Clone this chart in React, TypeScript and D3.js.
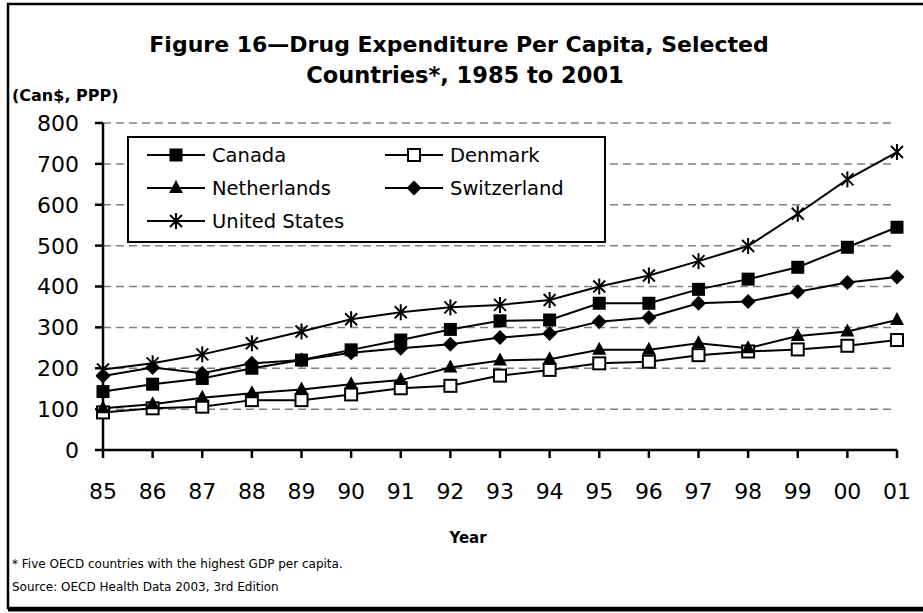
import React from "react";
import * as d3 from "d3";

const years = ["85","86","87","88","89","90","91","92","93","94","95","96","97","98","99","00","01"];
const yTicks = [0,100,200,300,400,500,600,700,800];
const canada = [143,161,175,200,220,245,269,295,316,318,359,359,393,418,447,496,545];
const denmark = [92,102,106,122,122,136,151,157,182,196,212,216,232,241,246,255,269];
const netherlands = [102,112,128,139,148,161,171,202,219,222,245,245,261,249,279,290,318];
const switzerland = [181,202,188,212,220,238,249,259,275,285,314,324,359,363,387,410,423];
const unitedStates = [197,212,234,261,290,320,337,349,355,367,400,427,462,499,578,662,729];

const seriesNames = ["Canada","Denmark","Netherlands","Switzerland","United States"];
const seriesValues = [canada, denmark, netherlands, switzerland, unitedStates];
const seriesMarkers = ["square","hollowSquare","triangle","diamond","asterisk"];

const W = 923, H = 613;
const FONT = "'DejaVu Sans', Verdana, sans-serif";

function Marker({ type, x, y }: { type: string; x: number; y: number }) {
  switch (type) {
    case "square":
      return <rect x={x - 6.5} y={y - 6.5} width={13} height={13} fill="#000" />;
    case "hollowSquare":
      return <rect x={x - 6} y={y - 6} width={12} height={12} fill="#fff" stroke="#000" strokeWidth={2} />;
    case "triangle":
      return <path d={`M${x},${y - 8}L${x + 7},${y + 5}L${x - 7},${y + 5}Z`} fill="#000" />;
    case "diamond":
      return <path d={`M${x},${y - 7.5}L${x + 7.5},${y}L${x},${y + 7.5}L${x - 7.5},${y}Z`} fill="#000" />;
    case "asterisk":
      return (
        <g stroke="#000" strokeWidth={2}>
          <line x1={x - 6} y1={y - 6} x2={x + 6} y2={y + 6} />
          <line x1={x - 6} y1={y + 6} x2={x + 6} y2={y - 6} />
          <line x1={x} y1={y - 8} x2={x} y2={y + 8} />
        </g>
      );
    default:
      return null;
  }
}

export default function App() {
  const x = d3.scalePoint<string>().domain(years).range([103, 897]);
  const y = d3.scaleLinear().domain([0, 800]).range([450, 123]);
  const line = d3.line<number>().x((_, i) => x(years[i]) as number).y((v) => y(v));

  const legendItems = [
    { name: seriesNames[0], marker: seriesMarkers[0], col: 0, row: 0 },
    { name: seriesNames[1], marker: seriesMarkers[1], col: 1, row: 0 },
    { name: seriesNames[2], marker: seriesMarkers[2], col: 0, row: 1 },
    { name: seriesNames[3], marker: seriesMarkers[3], col: 1, row: 1 },
    { name: seriesNames[4], marker: seriesMarkers[4], col: 0, row: 2 },
  ];
  const legX = [147, 385];
  const legY = [155, 188, 221];

  return (
    <div style={{ position: "fixed", left: 0, top: 0 }}>
      <svg width={W} height={H} style={{ display: "block", background: "#fff" }}>
        {/* outer frame */}
        <rect x={8} y={4} width={920} height={604} fill="none" stroke="#000" strokeWidth={2.5} />
        <line x1={8} y1={609.5} x2={923} y2={609.5} stroke="#000" strokeWidth={4} />

        {/* title */}
        <text x={459} y={52} textAnchor="middle" fontFamily={FONT} fontWeight="bold" fontSize={22}>
          Figure 16—Drug Expenditure Per Capita, Selected
        </text>
        <text x={465} y={83} textAnchor="middle" fontFamily={FONT} fontWeight="bold" fontSize={22.5}>
          Countries*, 1985 to 2001
        </text>
        <text x={12} y={101} fontFamily={FONT} fontWeight="bold" fontSize={16}>
          (Can$, PPP)
        </text>

        {/* gridlines */}
        {yTicks.filter((t) => t > 0).map((t) => (
          <line key={t} x1={103} x2={895} y1={y(t)} y2={y(t)} stroke="#808080" strokeWidth={1.5} strokeDasharray="8,5" />
        ))}

        {/* axes */}
        <line x1={103} x2={103} y1={y(800)} y2={y(0) + 1} stroke="#000" strokeWidth={2.5} />
        <line x1={102} x2={897} y1={y(0)} y2={y(0)} stroke="#000" strokeWidth={2.5} />
        {yTicks.map((t) => (
          <g key={t}>
            <line x1={95} x2={103} y1={y(t)} y2={y(t)} stroke="#000" strokeWidth={2.5} />
            <text x={79} y={y(t)} dy="0.36em" textAnchor="end" fontFamily={FONT} fontSize={22}>
              {t}
            </text>
          </g>
        ))}
        {years.map((yr) => (
          <g key={yr}>
            <line x1={x(yr)} x2={x(yr)} y1={y(0)} y2={y(0) + 8} stroke="#000" strokeWidth={2.5} />
            <text x={x(yr)} y={499} textAnchor="middle" fontFamily={FONT} fontSize={22}>
              {yr}
            </text>
          </g>
        ))}
        <text x={468} y={543} textAnchor="middle" fontFamily={FONT} fontWeight="bold" fontSize={15}>
          Year
        </text>

        {/* series */}
        {seriesValues.map((vals, si) => (
          <path key={si} d={line(vals) || ""} fill="none" stroke="#000" strokeWidth={2} />
        ))}
        {seriesValues.map((vals, si) =>
          vals.map((v, i) => (
            <Marker key={si + "-" + i} type={seriesMarkers[si]} x={x(years[i]) as number} y={y(v)} />
          ))
        )}

        {/* legend */}
        <rect x={128} y={137} width={477} height={105} fill="#fff" stroke="#000" strokeWidth={2} />
        {legendItems.map((it) => {
          const lx = legX[it.col];
          const ly = legY[it.row];
          return (
            <g key={it.name}>
              <line x1={lx} x2={lx + 58} y1={ly} y2={ly} stroke="#000" strokeWidth={2} />
              <Marker type={it.marker} x={lx + 29} y={ly} />
              <text x={lx + 65} y={ly} dy="0.36em" fontFamily={FONT} fontSize={19.5}>
                {it.name}
              </text>
            </g>
          );
        })}

        {/* footnotes */}
        <text x={12} y={568} fontFamily={FONT} fontSize={12}>
          * Five OECD countries with the highest GDP per capita.
        </text>
        <text x={12} y={591} fontFamily={FONT} fontSize={12}>
          Source: OECD Health Data 2003, 3rd Edition
        </text>
      </svg>
    </div>
  );
}
